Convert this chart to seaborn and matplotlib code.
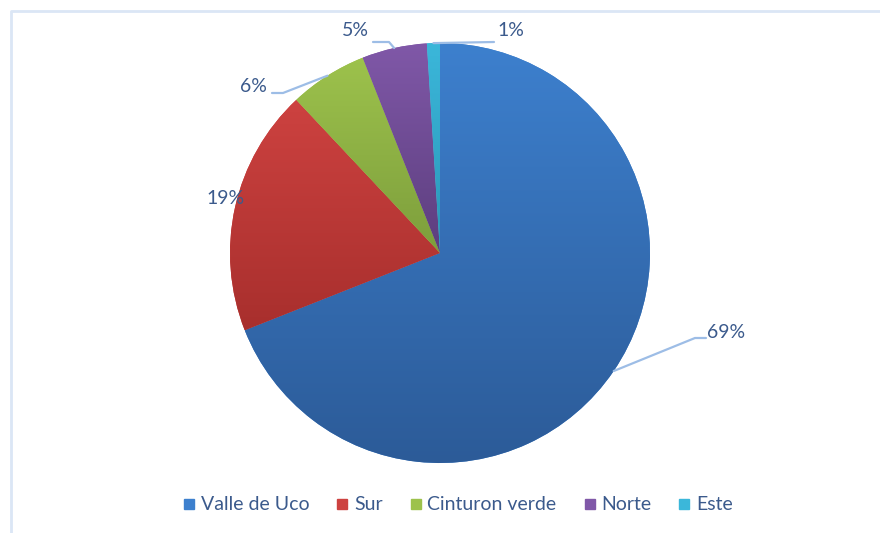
import numpy as np
import matplotlib
matplotlib.use('Agg')
import matplotlib.pyplot as plt
import seaborn as sns
from matplotlib.colors import LinearSegmentedColormap
from matplotlib.lines import Line2D

# 数据
regiones = ['Valle de Uco', 'Sur', 'Cinturon verde', 'Norte', 'Este']
porcentajes = [69, 19, 6, 5, 1]
etiquetas = ['69%', '19%', '6%', '5%', '1%']

# colores (claro arriba, oscuro abajo)
col_claro = ['#3d80ce', '#cd4240', '#9dc24c', '#8058a8', '#3bb7da']
col_oscuro = ['#2c5b98', '#a82f2d', '#7d9e3c', '#5c3e7e', '#2a96b8']

sns.set_theme(style='white')
plt.rcParams['font.family'] = ['Lato', 'DejaVu Sans']
txt_color = '#3b5a8c'
line_color = '#9dbde6'
fs = 14

W, H = 880, 533
fig = plt.figure(figsize=(8.8, 5.33), dpi=100)
ax = fig.add_axes([0, 0, 1, 1])

# marco del gráfico
cx, cy, r = 440, H - 253, 210
ax.plot([11, 11, W + 5], [-5, H - 11, H - 11], color='#dbe6f5', lw=2, solid_capstyle='butt')

wedges, _ = ax.pie(porcentajes, center=(cx, cy), radius=r, startangle=90,
                   counterclock=False, colors=col_claro,
                   wedgeprops=dict(linewidth=0), frame=True)
ax.set_xlim(0, W)
ax.set_ylim(0, H)
ax.set_aspect('equal')
ax.axis('off')

# degradado vertical en cada porción
for w, c1, c2 in zip(wedges, col_claro, col_oscuro):
    verts = w.get_verts()
    x0, y0 = verts.min(axis=0)
    x1, y1 = verts.max(axis=0)
    cmap = LinearSegmentedColormap.from_list('g', [c2, c1])
    grad = np.linspace(0, 1, 256).reshape(-1, 1)
    im = ax.imshow(grad, extent=[x0, x1, y0, y1], origin='lower', cmap=cmap,
                   aspect='auto', zorder=w.get_zorder() + 0.1)
    im.set_clip_path(w)
ax.set_xlim(0, W)
ax.set_ylim(0, H)

# etiquetas con líneas guía
tot = sum(porcentajes)
ang0 = 90.0
mid = []
for p in porcentajes:
    ang1 = ang0 - 360.0 * p / tot
    mid.append(np.deg2rad((ang0 + ang1) / 2))
    ang0 = ang1

def borde(a):
    return cx + r * np.cos(a), cy + r * np.sin(a)

# 69%
x, y = borde(mid[0])
ax.plot([x, 695, 706], [y, H - 338, H - 338], color=line_color, lw=1.6, zorder=5)
ax.text(707, H - 333, etiquetas[0], ha='left', va='center', fontsize=fs, color=txt_color)
# 19%
ax.text(226, H - 199, etiquetas[1], ha='center', va='center', fontsize=fs, color=txt_color, zorder=6)
# 6%
x, y = borde(mid[2])
ax.plot([272, 283, x], [H - 93, H - 93, y], color=line_color, lw=1.6, zorder=5)
ax.text(253, H - 87, etiquetas[2], ha='center', va='center', fontsize=fs, color=txt_color)
# 5%
x, y = borde(mid[3])
ax.plot([373, 389, x], [H - 42, H - 42, y], color=line_color, lw=1.6, zorder=5)
ax.text(355, H - 30, etiquetas[3], ha='center', va='center', fontsize=fs, color=txt_color)
# 1%
x, y = borde(mid[4])
ax.plot([494, x], [H - 42, y], color=line_color, lw=1.6, zorder=5)
ax.text(511, H - 30, etiquetas[4], ha='center', va='center', fontsize=fs, color=txt_color)

# leyenda
handles = [Line2D([0], [0], marker='s', ls='', markersize=7,
                  markerfacecolor=c, markeredgecolor=c) for c in col_claro]
leg = ax.legend(handles, regiones, loc='center', bbox_to_anchor=(456 / W, 1 - 505 / H),
                ncol=5, frameon=False, fontsize=fs, handletextpad=0.1,
                columnspacing=1.2, handlelength=1.0)
for t in leg.get_texts():
    t.set_color(txt_color)

plt.savefig('out.png', dpi=100)
